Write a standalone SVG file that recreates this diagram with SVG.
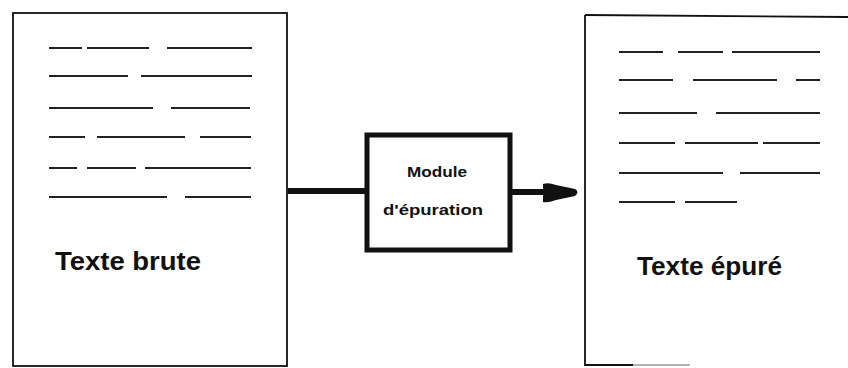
<svg xmlns="http://www.w3.org/2000/svg" width="848" height="368" viewBox="0 0 848 368">
  <style>
    .page { fill: #fff; stroke: #111; stroke-width: 1.8; }
    .edge { stroke: #111; stroke-width: 1.8; fill: none; }
    .rule { stroke: #222; stroke-width: 2; fill: none; }
    .title { font-family: "Liberation Sans", Arial, sans-serif; font-weight: bold; font-size: 26px; fill: #111; }
    .label { font-family: "Liberation Sans", Arial, sans-serif; font-weight: bold; font-size: 14.5px; fill: #111; }
    .link { stroke: #111; stroke-width: 6; fill: none; }
  </style>
  <rect width="848" height="368" fill="#fff"/>

  <!-- raw text page -->
  <g id="texte-brute">
    <rect class="page" x="13" y="13" width="274" height="353"/>
    <g class="rule">
      <path d="M49 48H82M87 48H149M167 48H252"/>
      <path d="M49 76H128M141 76H252"/>
      <path d="M49 108H153M171 108H250"/>
      <path d="M49 137H85M97 137H185M200 137H251"/>
      <path d="M49 168H77M87 168H136M145 168H251"/>
      <path d="M49 197H167M185 197H251"/>
    </g>
    <text class="title" x="55" y="270" textLength="146" lengthAdjust="spacingAndGlyphs">Texte brute</text>
  </g>

  <!-- cleaning module -->
  <g id="module">
    <rect x="367" y="135" width="143" height="115" fill="#fff" stroke="#111" stroke-width="5"/>
    <text class="label" x="437" y="177" text-anchor="middle" textLength="60" lengthAdjust="spacingAndGlyphs">Module</text>
    <text class="label" x="433" y="215" text-anchor="middle" textLength="100" lengthAdjust="spacingAndGlyphs">d'épuration</text>
  </g>

  <!-- cleaned text page (runs off the right side) -->
  <g id="texte-epure">
    <path class="edge" d="M585 15L848 17"/>
    <path class="edge" d="M585 15V365H633"/>
    <path d="M633 365H690" stroke="#999" stroke-width="1.5" fill="none"/>
    <g class="rule">
      <path d="M619 52H663M678 52H723M732 52H820"/>
      <path d="M619 80H673M693 80H777M796 80H820"/>
      <path d="M619 113H697M716 113H820"/>
      <path d="M619 143H675M685 143H758M763 143H820"/>
      <path d="M619 173H723M740 173H820"/>
      <path d="M619 202H675M685 202H737"/>
    </g>
    <text class="title" x="637" y="275" textLength="145" lengthAdjust="spacingAndGlyphs">Texte épuré</text>
  </g>

  <!-- connectors -->
  <g id="connectors">
    <path class="link" d="M288 191H366"/>
    <path class="link" d="M511 192H546"/>
    <path d="M543 184Q548 182 556 185L575 189Q580 192 575 196L556 200Q548 203 543 202Z" fill="#111"/>
  </g>
</svg>
